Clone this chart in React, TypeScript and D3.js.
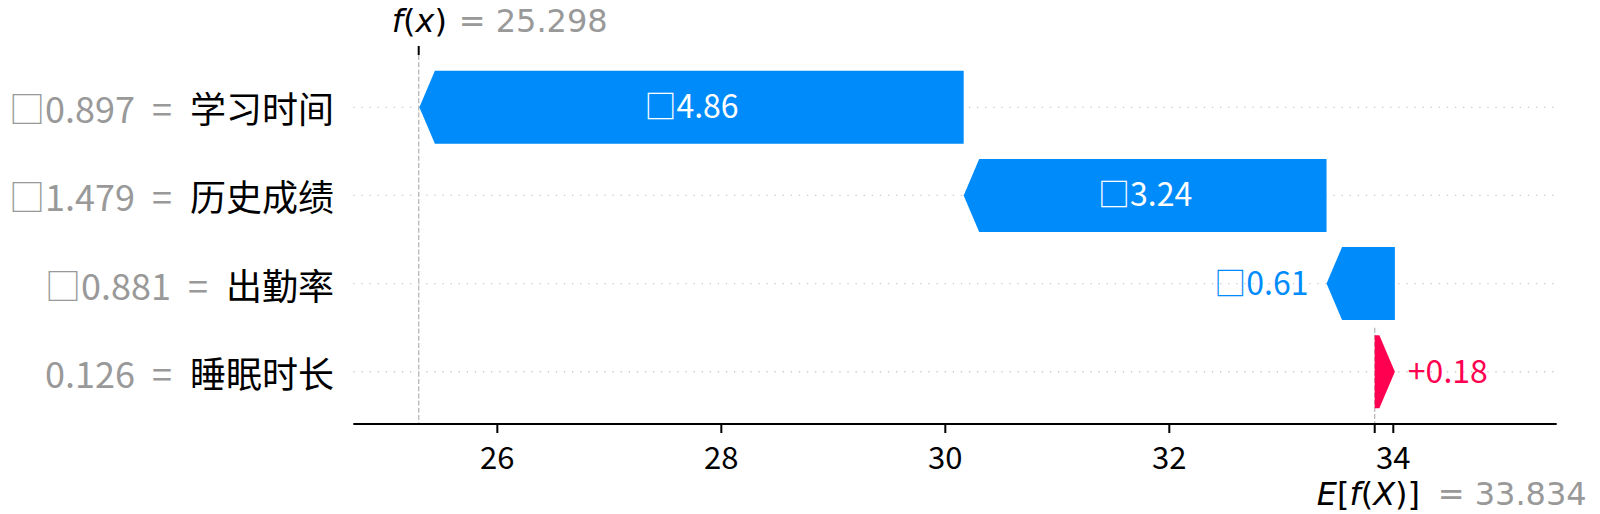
import * as d3 from 'd3';

// waterfall data (top row first)
const featureNames = ['学习时间', '历史成绩', '出勤率', '睡眠时长'];
const featureValues = [-0.897, -1.479, -0.881, 0.126];
const shapValues = [-4.86, -3.24, -0.61, 0.18];
const baseValue = 33.834;
const fxValue = 25.298;
const xTicks = [26, 28, 30, 32, 34];
const xDomain = [24.714, 35.459];

const W = 1600;
const H = 514;
const BLUE = '#008bfb';
const RED = '#ff0051';
const GRAY = '#999999';
const CJK = '"Noto Sans CJK SC", "Noto Sans", sans-serif';
const MATH = '"DejaVu Sans", sans-serif';

// the minus glyph is missing in the source font, it shows as a box
const sign = (v: number, plus: string) => (v < 0 ? '\u25A1' : plus);
const fmtFeature = (v: number) => sign(v, '') + Math.abs(v).toFixed(3);
const fmtShap = (v: number) => sign(v, '+') + Math.abs(v).toFixed(2);

export default function App() {
  const x = d3.scaleLinear().domain(xDomain).range([353.3, 1556.7]);
  const y = d3.scalePoint<string>().domain(featureNames).range([107.3, 371.7]);
  const axisY = 424;
  const plotTop = 55;
  const halfH = 36.5;
  const headLen = 15.5;
  const step = y.step();

  // running sums, starting from E[f(X)] at the bottom row
  const segs: { start: number; end: number }[] = [];
  let cur = baseValue;
  for (let i = featureNames.length - 1; i >= 0; i--) {
    segs[i] = { start: cur, end: cur + shapValues[i] };
    cur += shapValues[i];
  }

  const arrowPath = (x0: number, x1: number, cy: number) => {
    const dir = x1 >= x0 ? 1 : -1;
    const len = Math.abs(x1 - x0);
    const hl = Math.min(len, headLen);
    const body = x0 + dir * (len - hl);
    return d3.line()([
      [x0, cy - halfH],
      [body, cy - halfH],
      [x1, cy],
      [body, cy + halfH],
      [x0, cy + halfH],
    ]) + 'Z';
  };

  const fx = x(fxValue);
  const ex = x(baseValue);

  return (
    <svg width={W} height={H} style={{ position: 'absolute', left: 0, top: 0, background: '#fff' }}>
      {/* row grid */}
      {featureNames.map((f) => (
        <line key={'g' + f} x1={x.range()[0]} x2={x.range()[1]} y1={y(f)} y2={y(f)}
          stroke="#cccccc" strokeWidth={1.35} strokeDasharray="1.35 6.75" />
      ))}

      {/* f(x) and E[f(X)] guide lines */}
      <line x1={fx} x2={fx} y1={plotTop} y2={axisY} stroke="#bbbbbb" strokeWidth={1.35} strokeDasharray="5 2.2" />
      <line x1={ex} x2={ex} y1={y(featureNames[featureNames.length - 1])! - step / 2} y2={axisY}
        stroke="#bbbbbb" strokeWidth={1.35} strokeDasharray="5 2.2" />
      <line x1={fx} x2={fx} y1={plotTop - 9} y2={plotTop} stroke="#000" strokeWidth={2} />

      {/* bars */}
      {featureNames.map((f, i) => {
        const cy = y(f)!;
        const s = segs[i];
        const v = shapValues[i];
        const col = v < 0 ? BLUE : RED;
        const x0 = x(s.start);
        const x1 = x(s.end);
        const inside = Math.abs(x1 - x0) > 150;
        return (
          <g key={'b' + f}>
            <path d={arrowPath(x0, x1, cy)} fill={col} />
            {inside ? (
              <text x={(x0 + x1) / 2} y={cy + 11} textAnchor="middle" fill="#fff"
                fontFamily={CJK} fontSize={32}>{fmtShap(v)}</text>
            ) : v < 0 ? (
              <text x={x1 - 18} y={cy + 11} textAnchor="end" fill={col}
                fontFamily={CJK} fontSize={32}>{fmtShap(v)}</text>
            ) : (
              <text x={x1 + 13} y={cy + 11} textAnchor="start" fill={col}
                fontFamily={CJK} fontSize={32}>{fmtShap(v)}</text>
            )}
          </g>
        );
      })}

      {/* y labels: gray value, then the feature name in black */}
      {featureNames.map((f, i) => (
        <text key={'l' + f} x={334} y={y(f)! + 16} textAnchor="end" fontFamily={CJK} fontSize={36}>
          <tspan fill={GRAY}>{fmtFeature(featureValues[i])}</tspan>
          <tspan fill={GRAY} dx={17}>=</tspan>
          <tspan fill="#000" dx={18}>{f}</tspan>
        </text>
      ))}

      {/* x axis */}
      <line x1={x.range()[0]} x2={x.range()[1]} y1={axisY} y2={axisY} stroke="#000" strokeWidth={2.2} />
      {[...xTicks, baseValue].map((t) => (
        <line key={'t' + t} x1={x(t)} x2={x(t)} y1={axisY} y2={axisY + 9} stroke="#000" strokeWidth={2} />
      ))}
      {xTicks.map((t) => (
        <text key={'tl' + t} x={x(t)} y={469} textAnchor="middle" fontFamily={CJK} fontSize={31} fill="#000">{t}</text>
      ))}

      {/* f(x) label */}
      <text x={fx - 27} y={31.5} fontFamily={MATH} fontSize={32} fill="#000">
        <tspan fontStyle="italic">f</tspan>(<tspan fontStyle="italic">x</tspan>)
      </text>
      <text x={fx + 40} y={31.5} fontFamily={MATH} fontSize={32} fill={GRAY}>{'= ' + fxValue.toFixed(3)}</text>

      {/* E[f(X)] label */}
      <text x={ex - 58} y={505} fontFamily={MATH} fontSize={32} fill="#000">
        <tspan fontStyle="italic">E</tspan>[<tspan fontStyle="italic">f</tspan>(<tspan fontStyle="italic">X</tspan>)]
      </text>
      <text x={ex + 63} y={505} fontFamily={MATH} fontSize={32} fill={GRAY}>{'= ' + baseValue.toFixed(3)}</text>
    </svg>
  );
}
